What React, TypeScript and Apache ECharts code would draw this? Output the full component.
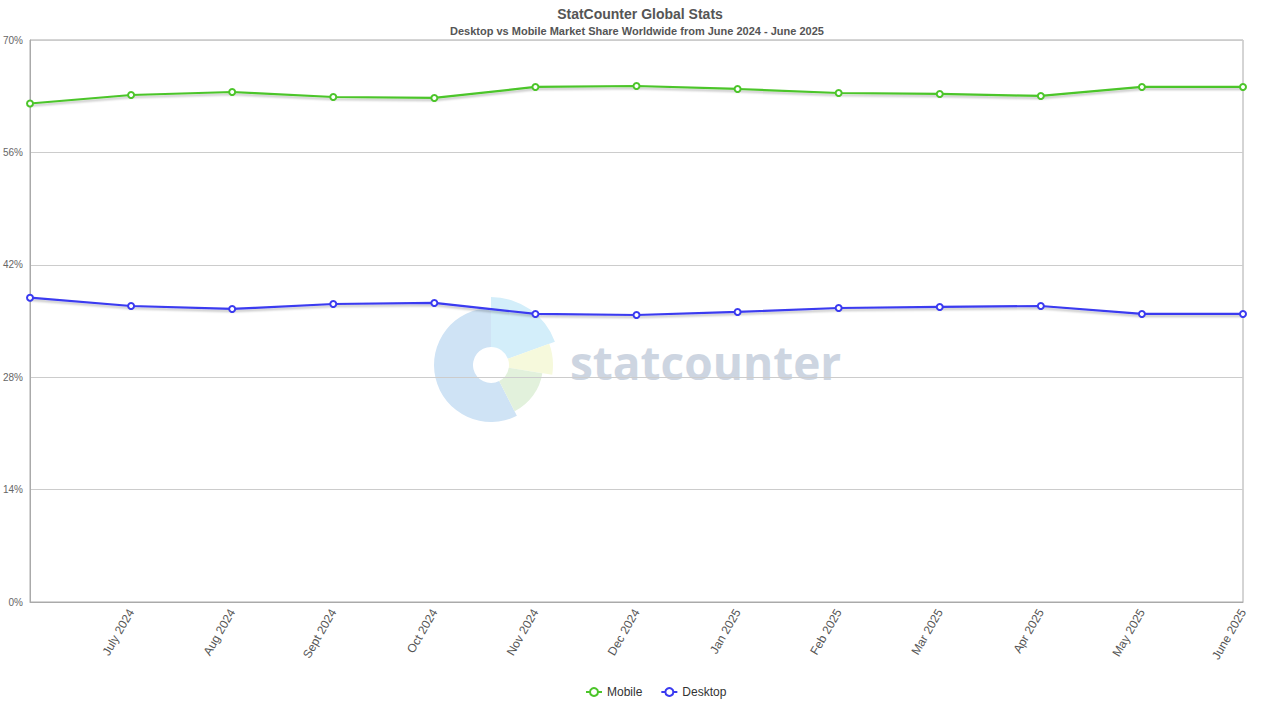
import React, { useEffect, useRef } from 'react';
import * as echarts from 'echarts';

const months = [
    'June 2024', 'July 2024', 'Aug 2024', 'Sept 2024', 'Oct 2024', 'Nov 2024', 'Dec 2024',
    'Jan 2025', 'Feb 2025', 'Mar 2025', 'Apr 2025', 'May 2025', 'June 2025',
];
const mobile = [62.09, 63.15, 63.52, 62.9, 62.78, 64.15, 64.27, 63.9, 63.4, 63.28, 63.03, 64.15, 64.15];
const desktop = [37.9, 36.87, 36.5, 37.12, 37.25, 35.88, 35.75, 36.13, 36.62, 36.75, 36.87, 35.88, 35.88];
const yTicks = { min: 0, max: 70, step: 14 };

export default function App() {
    const chartRef = useRef<HTMLDivElement>(null);

    useEffect(() => {
        if (!chartRef.current) return;
        const chart = echarts.init(chartRef.current, null, { renderer: 'svg' });
        const cx = 491;
        const cy = 365;
        const deg = Math.PI / 180;
        const shadow = { shadowColor: 'rgba(0,0,0,0.25)', shadowBlur: 2, shadowOffsetY: 2 };

        chart.setOption({
            animation: false,
            textStyle: { fontFamily: '"Liberation Sans", Arial, sans-serif' },
            title: [
                {
                    text: 'StatCounter Global Stats',
                    left: 'center', top: 2,
                    textStyle: { fontSize: 14, fontWeight: 'bold', color: '#555' },
                },
                {
                    text: 'Desktop vs Mobile Market Share Worldwide from June 2024 - June 2025',
                    left: 445, top: 20,
                    textStyle: { fontSize: 11, fontWeight: 'bold', color: '#555' },
                },
            ],
            legend: {
                bottom: 17,
                left: 580,
                itemGap: 18,
                itemWidth: 16,
                itemHeight: 10,
                textStyle: { fontSize: 12, color: '#333' },
                data: ['Mobile', 'Desktop'],
            },
            grid: {
                left: 29, right: 37, top: 40, bottom: 118,
                show: true, borderColor: '#aaa', borderWidth: 1,
            },
            graphic: [
                { type: 'sector', z: -10, shape: { cx, cy, r: 57, r0: 18, startAngle: 63 * deg, endAngle: 270 * deg }, style: { fill: '#cfe3f5' } },
                { type: 'sector', z: -10, shape: { cx, cy, r: 68, r0: 18, startAngle: -90 * deg, endAngle: -20 * deg }, style: { fill: '#d3eefa' } },
                { type: 'sector', z: -10, shape: { cx, cy, r: 62, r0: 18, startAngle: -20 * deg, endAngle: 9 * deg }, style: { fill: '#f6f9dc' } },
                { type: 'sector', z: -10, shape: { cx, cy, r: 52, r0: 18, startAngle: 9 * deg, endAngle: 63 * deg }, style: { fill: '#e2f1dc' } },
                {
                    type: 'text', z: -10, x: 570, y: 362,
                    style: {
                        text: 'statcounter', fontSize: 46, fontWeight: 700,
                        fontFamily: '"Open Sans", sans-serif', fill: '#cdd5e1',
                        verticalAlign: 'middle',
                    },
                },
            ],
            xAxis: {
                type: 'category',
                boundaryGap: false,
                data: months,
                axisLine: { lineStyle: { color: '#aaa' } },
                axisTick: { show: false },
                axisLabel: {
                    rotate: 60, fontSize: 12, color: '#555', margin: 8, interval: 0,
                    formatter: (v: string, i: number) => (i === 0 ? '' : v),
                },
            },
            yAxis: {
                type: 'value',
                min: yTicks.min, max: yTicks.max, interval: yTicks.step,
                axisLine: { show: true, lineStyle: { color: '#aaa' } },
                axisTick: { show: false },
                axisLabel: { formatter: '{value}%', fontSize: 10, color: '#666', margin: 7 },
                splitLine: { lineStyle: { color: '#ccc' } },
            },
            series: [
                {
                    name: 'Mobile', type: 'line', data: mobile,
                    symbol: 'emptyCircle', symbolSize: 6,
                    color: '#4cc52a',
                    lineStyle: { width: 2.2, ...shadow },
                    itemStyle: { borderWidth: 1.3 },
                },
                {
                    name: 'Desktop', type: 'line', data: desktop,
                    symbol: 'emptyCircle', symbolSize: 6,
                    color: '#3a3af0',
                    lineStyle: { width: 2.2, ...shadow },
                    itemStyle: { borderWidth: 1.3 },
                },
            ],
        });

        return () => {
            chart.dispose();
        };
    }, []);

    return <div ref={chartRef} style={{ position: 'fixed', left: 0, top: 0, width: '1280px', height: '720px', background: '#fff' }}></div>;
}
